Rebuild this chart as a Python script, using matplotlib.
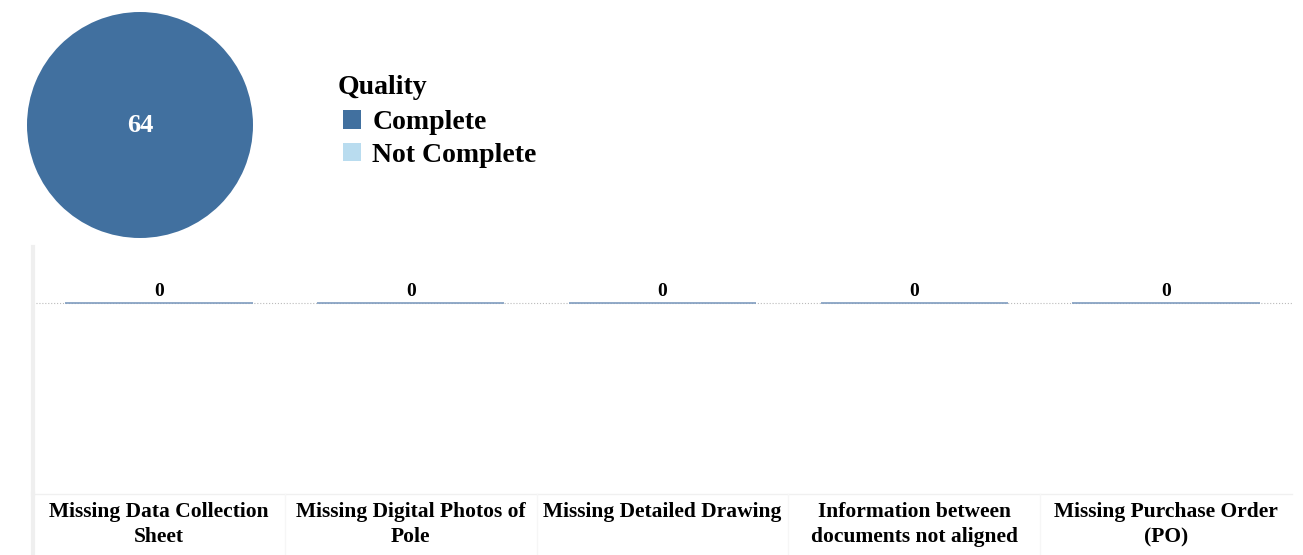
import matplotlib.pyplot as plt
from matplotlib.patches import Patch
from matplotlib.lines import Line2D
import numpy as np

plt.rcParams["font.family"] = ["Liberation Serif", "DejaVu Serif"]
plt.rcParams["font.weight"] = "bold"

# data
quality_labels = ["Complete", "Not Complete"]
quality_values = [64, 0]
quality_colors = ["#41709f", "#b9dcef"]

issue_labels = [
    "Missing Data Collection\nSheet",
    "Missing Digital Photos of\nPole",
    "Missing Detailed Drawing",
    "Information between\ndocuments not aligned",
    "Missing Purchase Order\n(PO)",
]
issue_values = [0, 0, 0, 0, 0]

W, H = 1303, 555
fig = plt.figure(figsize=(W / 100, H / 100), dpi=100)


def px_axes(left, top, right, bottom):
    return fig.add_axes([left / W, 1 - bottom / H, (right - left) / W, (bottom - top) / H])


# pie
pax = px_axes(27, 12, 253, 238)
pax.pie(quality_values, colors=quality_colors, radius=1, startangle=90, counterclock=False)
pax.set_xlim(-1, 1)
pax.set_ylim(-1, 1)
pax.set_aspect("equal")
pax.text(0, 0, str(quality_values[0]), color="white", ha="center", va="center",
         fontsize=19, fontweight="bold")

# legend
fig.text(338 / W, 1 - 87 / H, "Quality", ha="left", va="center", fontsize=20, fontweight="bold")
handles = [Patch(facecolor=c, edgecolor="none") for c in quality_colors]
fig.legend(handles, quality_labels, loc="upper left",
           bbox_to_anchor=(343 / W, 1 - 110 / H), frameon=False,
           prop={"size": 20, "weight": "bold"},
           handlelength=0.65, handleheight=0.65, handletextpad=0.4,
           labelspacing=0.27, borderaxespad=0, borderpad=0)

# bar chart
bax = px_axes(33, 247, 1292, 494)
x = np.arange(len(issue_labels))
bax.axhline(0, color="#bbbbbb", linestyle=":", linewidth=0.8, zorder=1)
bax.bar(x, issue_values, width=0.745, color="#41709f", edgecolor="#7f9cbf",
        linewidth=1.2, zorder=2)
for xi, v in zip(x, issue_values):
    bax.text(xi, v + 0.06, str(v), ha="center", va="bottom", fontsize=14, fontweight="bold")
bax.set_xlim(-0.5, len(issue_labels) - 0.5)
bax.set_ylim(-3.4, 1)
bax.set_yticks([])
bax.set_xticks(x)
bax.set_xticklabels(issue_labels, fontsize=15.5, fontweight="bold", linespacing=1.32)
bax.tick_params(axis="x", length=0, pad=6)
for s in ["top", "right"]:
    bax.spines[s].set_visible(False)
bax.spines["bottom"].set_color("#f0f0f0")
bax.spines["bottom"].set_linewidth(1)
bax.spines["left"].set_color("#efefef")
bax.spines["left"].set_linewidth(3)

# left rule continues under the labels
fig.add_artist(Line2D([33 / W, 33 / W], [0, 1 - 494 / H], color="#efefef", linewidth=3))
for i in range(1, len(issue_labels)):
    xp = (33 + i * (1292 - 33) / len(issue_labels)) / W
    fig.add_artist(Line2D([xp, xp], [0, 1 - 494 / H], color="#f6f6f6", linewidth=1))

fig.savefig("out.png", dpi=100)
